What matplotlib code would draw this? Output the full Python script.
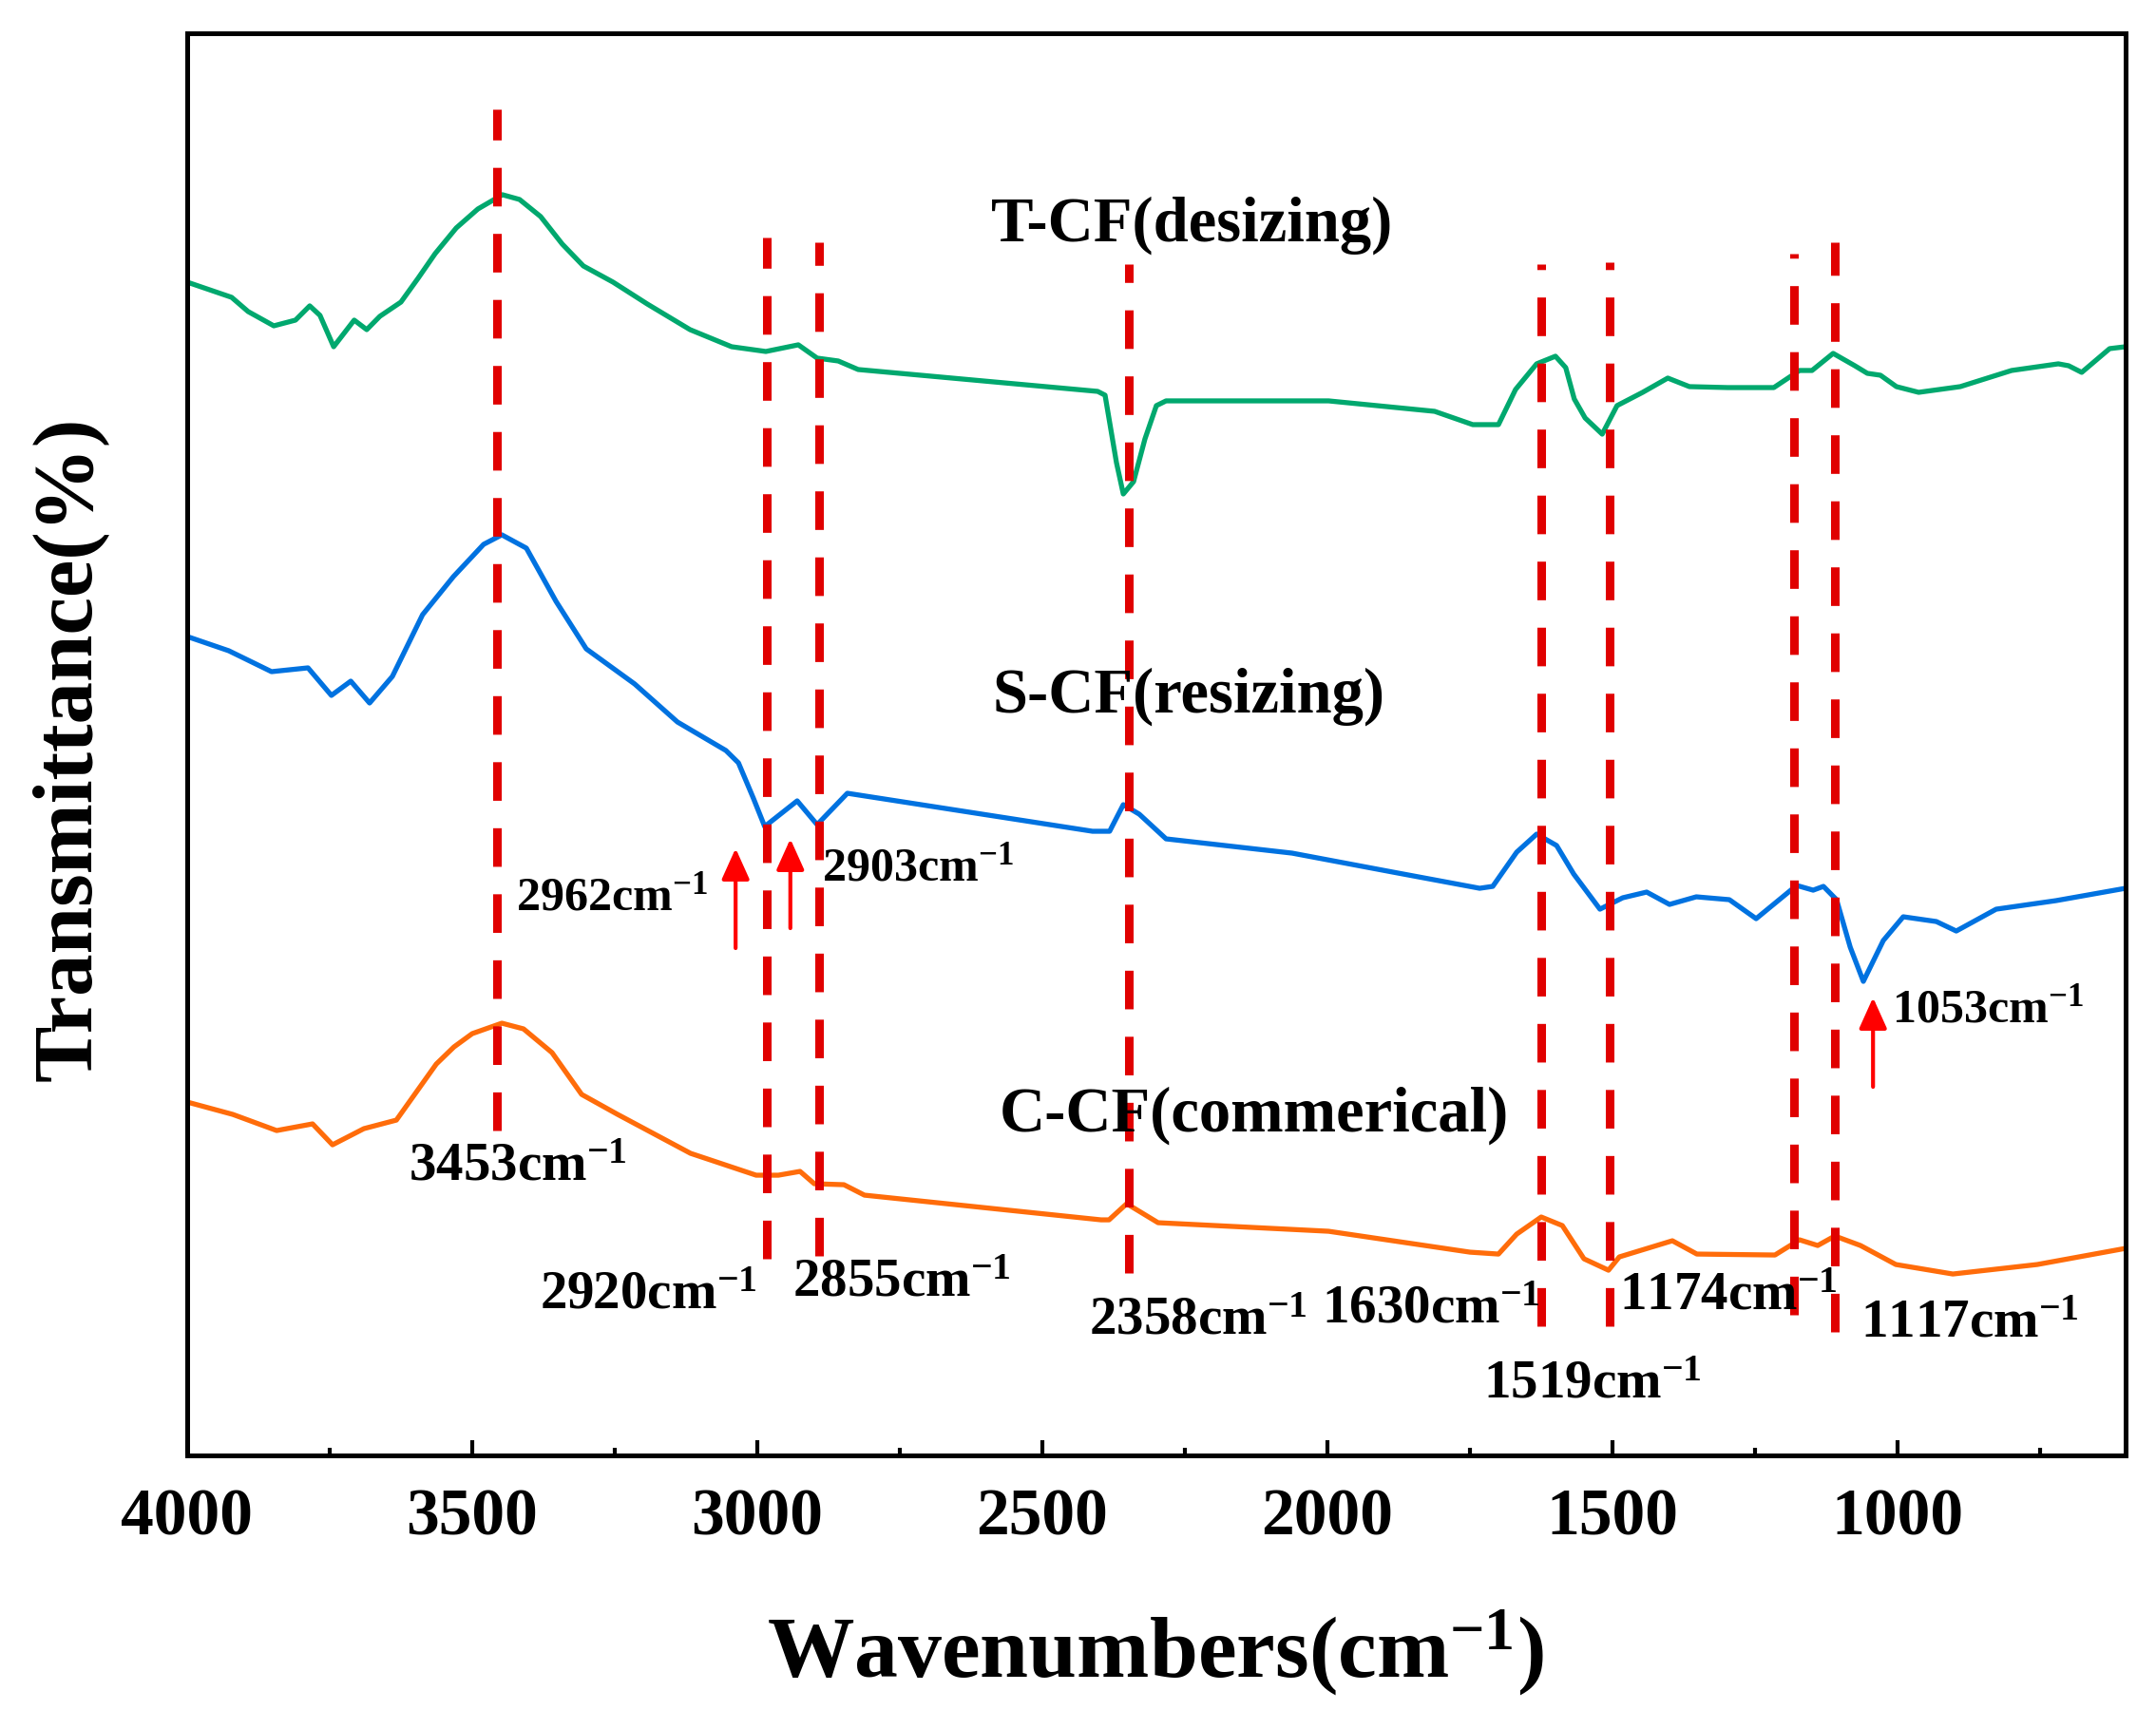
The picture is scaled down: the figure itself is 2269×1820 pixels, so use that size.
import matplotlib.pyplot as plt
from matplotlib.ticker import MultipleLocator

plt.rcParams['font.family'] = 'Liberation Serif'
plt.rcParams['font.weight'] = 'bold'
plt.rcParams['mathtext.fontset'] = 'custom'
plt.rcParams['mathtext.rm'] = 'Liberation Serif:bold'
plt.rcParams['mathtext.it'] = 'Liberation Serif:bold'
plt.rcParams['mathtext.bf'] = 'Liberation Serif:bold'

# spectra (wavenumber, transmittance in a.u.)
wn_t = [4000, 3922, 3893, 3848, 3810, 3785, 3767, 3743, 3707, 3685, 3662, 3625, 3595, 3565,
        3528, 3490, 3447, 3417, 3380, 3342, 3305, 3253, 3193, 3118, 3045, 2985, 2928, 2895,
        2858, 2823, 2403, 2390, 2370, 2358, 2340, 2320, 2300, 2283, 1998, 1812, 1745, 1700,
        1670, 1633, 1600, 1582, 1567, 1548, 1518, 1492, 1447, 1403, 1365, 1298, 1217, 1172,
        1150, 1113, 1075, 1053, 1030, 1002, 963, 890, 800, 718, 700, 677, 628, 600]
t_cf = [123.5, 121.9, 120.4, 118.9, 119.5, 121.0, 120.0, 116.7, 119.5, 118.5, 119.9, 121.4,
        123.9, 126.5, 129.2, 131.2, 132.7, 132.2, 130.4, 127.5, 125.2, 123.5, 121.2, 118.5,
        116.7, 116.2, 116.9, 115.5, 115.2, 114.3, 112.0, 111.6, 104.5, 101.2, 102.5, 107.0,
        110.5, 111.0, 111.0, 109.9, 108.5, 108.5, 112.2, 114.9, 115.7, 114.5, 111.2, 109.2,
        107.5, 110.5, 111.9, 113.4, 112.5, 112.4, 112.4, 114.2, 114.2, 116.0, 114.7, 113.9,
        113.7, 112.5, 111.9, 112.5, 114.2, 114.9, 114.7, 114.0, 116.5, 116.7]

wn_s = [4000, 3927, 3852, 3788, 3747, 3713, 3680, 3640, 3587, 3533, 3480, 3448, 3405, 3353,
        3300, 3215, 3140, 3055, 3033, 3007, 2987, 2930, 2895, 2842, 2412, 2382, 2358, 2330,
        2283, 2062, 1885, 1733, 1710, 1668, 1633, 1598, 1568, 1522, 1482, 1440, 1400, 1353,
        1295, 1248, 1177, 1148, 1130, 1107, 1083, 1060, 1025, 990, 932, 897, 827, 722, 600]
s_cf = [86.2, 84.7, 82.5, 82.9, 80.0, 81.5, 79.2, 82.0, 88.5, 92.5, 95.9, 96.9, 95.5, 89.9,
        84.9, 81.2, 77.2, 74.2, 72.9, 69.2, 66.2, 68.9, 66.4, 69.7, 65.7, 65.7, 68.5, 67.5,
        64.9, 63.4, 61.4, 59.7, 59.9, 63.5, 65.4, 64.2, 61.2, 57.5, 58.7, 59.3, 58.0, 58.8,
        58.5, 56.5, 60.0, 59.5, 59.9, 58.5, 53.5, 49.9, 54.2, 56.7, 56.2, 55.2, 57.5, 58.4, 59.7]

wn_c = [4000, 3920, 3843, 3780, 3745, 3690, 3633, 3563, 3532, 3500, 3448, 3410, 3360, 3308,
        3245, 3117, 3002, 2963, 2925, 2900, 2848, 2812, 2397, 2383, 2352, 2297, 1998, 1750,
        1700, 1668, 1625, 1588, 1550, 1507, 1488, 1395, 1352, 1215, 1172, 1140, 1110, 1065,
        1003, 903, 755, 600]
c_cf = [37.2, 35.9, 34.2, 34.9, 32.7, 34.4, 35.3, 41.2, 43.0, 44.4, 45.5, 44.9, 42.4, 38.0,
        35.9, 31.8, 29.5, 29.5, 29.9, 28.6, 28.5, 27.4, 24.8, 24.8, 26.5, 24.5, 23.6, 21.4,
        21.2, 23.3, 25.1, 24.2, 20.7, 19.5, 20.9, 22.6, 21.2, 21.1, 22.7, 22.1, 23.1, 22.1,
        20.1, 19.1, 20.1, 21.8]

series_names = ['T-CF(desizing)', 'S-CF(resizing)', 'C-CF(commerical)']
series_colors = ['#00a86e', '#0072e0', '#ff6c0a']
name_x = [2238, 2243, 2128]
name_y = [129.5, 79.9, 35.8]

# dashed marker lines: wavenumber, bottom, top
line_wn = [3457, 2983, 2892, 2348, 1625, 1505, 1182, 1110]
line_lo = [34.2, 20.7, 21.0, 19.2, 13.6, 13.6, 14.8, 13.0]
line_hi = [141.7, 128.2, 127.7, 125.4, 125.4, 125.6, 126.5, 127.7]

# peak labels
peak_txt = ['2962', '2903', '3453', '2920', '2855', '2358', '1630', '1519', '1174', '1117', '1053']
peak_x = [3423, 2887, 3612, 3382, 2938, 2418, 2010, 1727, 1488, 1065, 1010]
peak_y = [58.6, 61.7, 30.4, 16.9, 18.2, 14.2, 15.4, 7.5, 16.8, 13.9, 46.8]
peak_fs = [36, 36, 41, 41, 41, 41, 41, 41, 41, 41, 36]

# red arrows: wavenumber, tail, head
arrow_wn = [3038, 2942, 1043]
arrow_tail = [53.4, 55.5, 38.8]
arrow_head = [63.9, 64.9, 48.2]

fig = plt.figure(figsize=(22.69, 18.2), dpi=100)
ax = fig.add_axes([0.0868, 0.1582, 0.8991, 0.8226])

for xs, ys, c in zip([wn_t, wn_s, wn_c], [t_cf, s_cf, c_cf], series_colors):
    ax.plot(xs, ys, color=c, lw=3.8, zorder=2, solid_joinstyle='round')

for x, lo, hi in zip(line_wn, line_lo, line_hi):
    ax.plot([x, x], [lo, hi], color='#e00000', lw=6.5, ls=(0, (4.5, 3.2)), zorder=3)

for name, x, y in zip(series_names, name_x, name_y):
    ax.text(x, y, name, fontsize=48, ha='center', va='center')

for t, x, y, fs in zip(peak_txt, peak_x, peak_y, peak_fs):
    ax.text(x, y, t + r'cm$^{-1}$', fontsize=fs, ha='left', va='center', zorder=4)

for x, y0, y1 in zip(arrow_wn, arrow_tail, arrow_head):
    ax.annotate('', xy=(x, y1), xytext=(x, y0),
                arrowprops=dict(arrowstyle='-|>,head_width=0.45,head_length=1.0',
                                color='red', lw=3, shrinkA=0, shrinkB=0, mutation_scale=20))

ax.set_xlim(4000, 600)
ax.set_ylim(0, 149.7)
ax.xaxis.set_major_locator(MultipleLocator(500))
ax.xaxis.set_minor_locator(MultipleLocator(250))
ax.set_yticks([])
ax.tick_params(axis='x', which='major', direction='in', length=11.5, width=3,
               labelsize=50, pad=25)
ax.tick_params(axis='x', which='minor', direction='in', length=6, width=3)
for s in ax.spines.values():
    s.set_linewidth(3.6)

fig.text(0.536, 0.044, r'Wavenumbers(cm$^{-1}$)', fontsize=66, ha='center', va='center')
fig.text(0.032, 0.567, 'Transmittance(%)', fontsize=64, ha='center', va='center', rotation=90)

fig.savefig('out.png', dpi=100)
